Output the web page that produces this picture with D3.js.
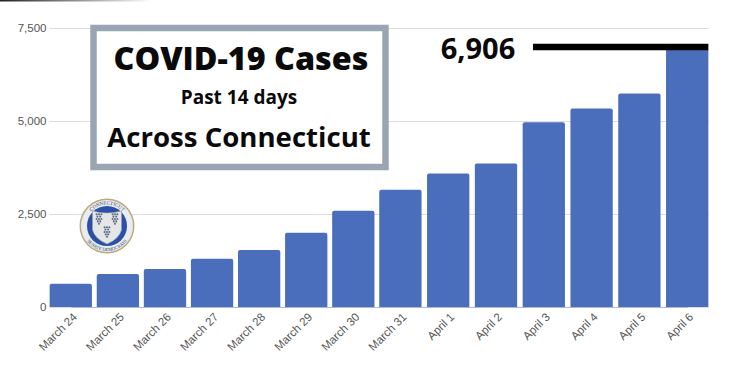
<!DOCTYPE html>
<html>
<head>
<meta charset="utf-8">
<script src="https://cdn.jsdelivr.net/npm/d3@7"></script>
<style>
  html, body { margin: 0; padding: 0; background: #fff; }
  svg { display: block; }
  .yAxis text, .xAxis text { font-family: "Liberation Sans", Arial, sans-serif; fill: #555; }
  .yAxis text { font-size: 11.5px; }
  .xAxis text { font-size: 11.5px; }
  .yAxis .domain, .xAxis .tick line { display: none; }
  .yAxis .tick line { stroke: #dcdcdc; }
  .xAxis .domain { stroke: #aeb8d6; }
  .heading { font-family: "Open Sans", "Noto Sans", sans-serif; fill: #0a0a0a; text-anchor: middle; }
</style>
</head>
<body>
<div id="svgcontainer"></div>
<script>
var days = ["March 24","March 25","March 26","March 27","March 28","March 29","March 30","March 31","April 1","April 2","April 3","April 4","April 5","April 6"];
var cases = [626,886,1020,1297,1530,1995,2586,3150,3588,3857,4968,5333,5736,6906];
var yTicks = [0,2500,5000,7500];
var headings = ["COVID-19 Cases","Past 14 days","Across Connecticut"];
var callout = "6,906";

var width = 747, height = 370;
var padding = {top:28, right:36, left:47.5, bottom:63};
var barWidth = 42.3;

var svg = d3.select("#svgcontainer").append("svg").attr("width", width).attr("height", height);

// the photographed chart is a little stretched to the right, so the bar centres are not quite evenly spaced
var xScale = d3.scaleLinear()
  .domain([0, 7, 13])
  .range([70.8, 400.4, 687.2]);

var yScale = d3.scaleLinear()
  .domain([0, 7500])
  .range([height - padding.bottom, padding.top]);

// thin dark streak along the top edge of the screenshot
var defs = svg.append("defs");
var fade = defs.append("linearGradient").attr("id", "fade");
fade.append("stop").attr("offset", "0%").attr("stop-color", "#222");
fade.append("stop").attr("offset", "100%").attr("stop-color", "#fff");
svg.append("rect").attr("x", 0).attr("y", 0).attr("width", 152).attr("height", 1.5).attr("fill", "url(#fade)");

svg.append("g")
  .classed("yAxis", true)
  .attr("transform", "translate(" + (padding.left + 2) + ",0)")
  .call(d3.axisLeft(yScale)
    .tickValues(yTicks)
    .tickFormat(d3.format(","))
    .tickSize(-(width - padding.right - padding.left - 4))
    .tickPadding(3));

// bars with slightly rounded top corners, the last one sits square under the callout line
svg.append("g")
  .selectAll("path")
  .data(cases)
  .enter().append("path")
    .classed("bar", true)
    .attr("fill", "#4a6ebb")
    .attr("d", function(d, i) {
      var x0 = xScale(i) - barWidth / 2, x1 = x0 + barWidth;
      var y0 = yScale(d), y1 = yScale(0), r = i == cases.length - 1 ? 0 : 2;
      return "M" + x0 + "," + y1 + "V" + (y0 + r) + "Q" + x0 + "," + y0 + " " + (x0 + r) + "," + y0 +
        "H" + (x1 - r) + "Q" + x1 + "," + y0 + " " + x1 + "," + (y0 + r) + "V" + y1 + "Z";
    });

var xAxis = svg.append("g")
  .classed("xAxis", true)
  .attr("transform", "translate(0," + yScale(0) + ")")
  .call(d3.axisBottom(xScale)
    .tickValues(d3.range(days.length))
    .tickFormat(function(i){ return days[i]; })
    .tickSizeOuter(0).tickSize(0).tickPadding(9));

xAxis.selectAll("text")
  .attr("text-anchor", "end")
  .attr("dx", "-3")
  .attr("dy", "3")
  .attr("transform", "rotate(-45)");

// title box
svg.append("rect")
  .attr("x", 93.5).attr("y", 28)
  .attr("width", 292).attr("height", 139)
  .attr("fill", "#fff")
  .attr("stroke", "#9aa5b4")
  .attr("stroke-width", 6.5);

svg.append("text").classed("heading", true).attr("x", 241).attr("y", 70)
  .attr("font-size", 32.3).attr("font-weight", 800).text(headings[0]);
svg.append("text").classed("heading", true).attr("x", 239).attr("y", 104)
  .attr("font-size", 19).attr("font-weight", 700).text(headings[1]);
svg.append("text").classed("heading", true).attr("x", 239).attr("y", 146.5)
  .attr("font-size", 27.6).attr("font-weight", 700).text(headings[2]);

// callout for the last bar
var lastX = xScale(days.length - 1) + barWidth / 2;
var lastY = yScale(cases[cases.length - 1]);
svg.append("line")
  .attr("x1", 533).attr("x2", lastX)
  .attr("y1", lastY - 3).attr("y2", lastY - 3)
  .attr("stroke", "#000").attr("stroke-width", 6.5);
svg.append("text").classed("heading", true).attr("x", 478).attr("y", 59)
  .attr("font-size", 29).attr("font-weight", 700).text(callout);

// senate democrats seal
var grapeClusters = [[-8,-7],[8,-7],[0,6]];
var grapeDots = [[-3,-6],[0,-6],[3,-6],[-2,-3],[1.5,-3],[-3,0],[0,0],[3,0],[-1.5,3],[1.5,3],[0,6]];
var seal = svg.append("g").attr("transform", "translate(107,226)");
seal.append("circle").attr("r", 27.5).attr("fill", "#b9ab7e");
seal.append("circle").attr("r", 26).attr("fill", "#e9ebee");
seal.append("circle").attr("r", 20).attr("fill", "#2a50a8");
seal.append("path")
  .attr("d", "M-14.5,-15 Q0,-11 14.5,-15 L14.5,4 Q12,13 0,18 Q-12,13 -14.5,4 Z")
  .attr("fill", "#e4e6e8").attr("stroke", "#9aa0a8").attr("stroke-width", 0.6);
seal.selectAll(".grapes")
  .data(grapeClusters)
  .enter().append("g")
    .classed("grapes", true)
    .attr("transform", function(d){ return "translate(" + d[0] + "," + d[1] + ") scale(0.8)"; })
    .selectAll("circle")
    .data(grapeDots)
    .enter().append("circle")
      .attr("cx", function(d){ return d[0]; })
      .attr("cy", function(d){ return d[1]; })
      .attr("r", 1.3)
      .attr("fill", "#5f6e80");
defs.append("path").attr("id", "sealTop").attr("d", "M-21.5,0 A21.5,21.5 0 0 1 21.5,0");
defs.append("path").attr("id", "sealBottom").attr("d", "M-25,0 A25,25 0 0 0 25,0");
seal.append("text").attr("font-family", "Liberation Serif, serif").attr("font-size", 5).attr("fill", "#2d3f66").attr("text-anchor", "middle")
  .append("textPath").attr("href", "#sealTop").attr("startOffset", "50%").text("CONNECTICUT");
seal.append("text").attr("font-family", "Liberation Serif, serif").attr("font-size", 4.6).attr("fill", "#2d3f66").attr("text-anchor", "middle")
  .append("textPath").attr("href", "#sealBottom").attr("startOffset", "50%").text("SENATE DEMOCRATS");
</script>
</body>
</html>
